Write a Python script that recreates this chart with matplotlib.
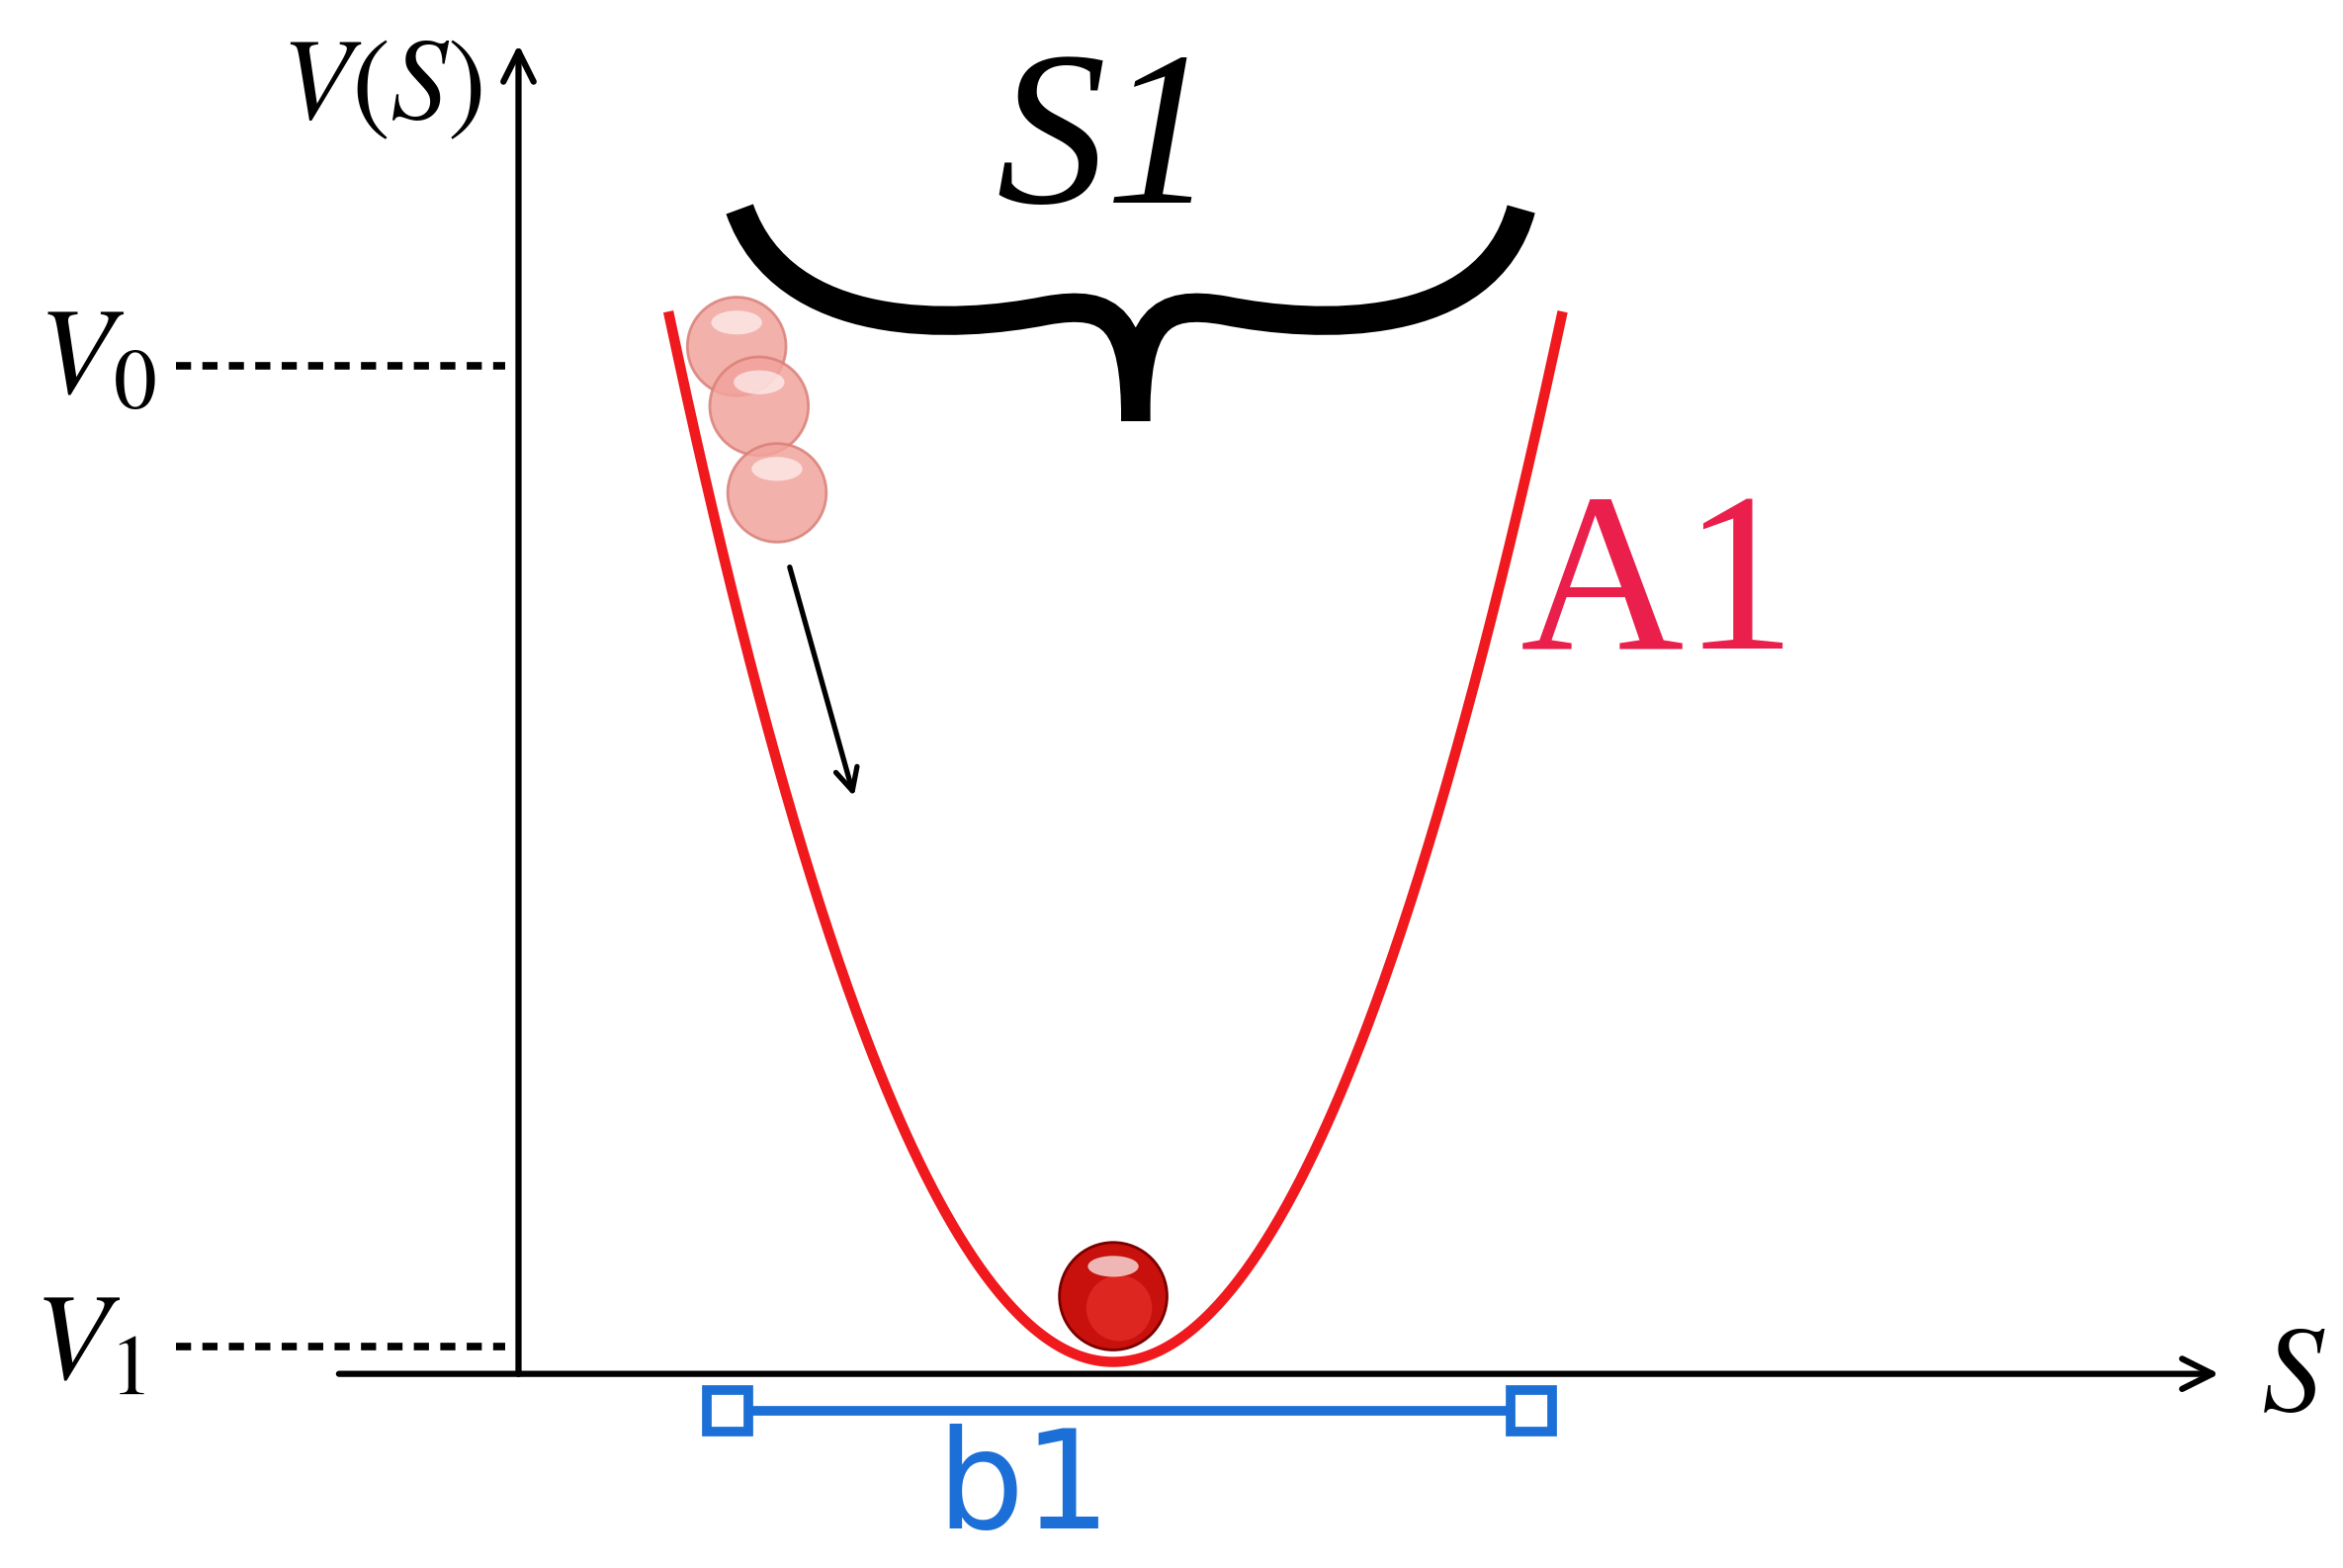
import numpy as np
import matplotlib.pyplot as plt
from matplotlib.patches import Circle, Ellipse, PathPatch, FancyArrowPatch
from matplotlib.path import Path

# diagram in reference pixel units (1568 x 1050)
vertex = (745, 912)
left_top = (448, 212)
right_top = (1045, 212)
ghost_balls = [(493, 232), (508, 272), (520, 330)]
ball = (745, 868)
level_y = {"V0": 245, "V1": 902}
b1_span = [487, 1025]

plt.rcParams['mathtext.fontset'] = 'stix'
fig = plt.figure(figsize=(23.7, 15.86), dpi=100)
ax = fig.add_axes([0, 0, 1, 1])
ax.set_xlim(0, 1568)
ax.set_ylim(1050, 0)
ax.axis('off')

# axes
ax.annotate('', xy=(347, 28), xytext=(347, 922),
            arrowprops=dict(arrowstyle='->', lw=4.5, color='black', mutation_scale=55))
ax.annotate('', xy=(1487, 920), xytext=(225, 920),
            arrowprops=dict(arrowstyle='->', lw=4.5, color='black', mutation_scale=55))

for name, y in level_y.items():
    ax.plot([118, 338], [y, y], color='black', lw=5.5, ls=(0, (2.0, 1.5)))

ax.text(255, 58, r'$V(S)$', fontsize=84, ha='center', va='center')
ax.text(65, 240, r'$V_{\mathit{0}}$', fontsize=90, ha='center', va='center')
ax.text(60, 900, r'$V_{\mathit{1}}$', fontsize=90, ha='center', va='center')
ax.text(1535, 922, r'$S$', fontsize=90, ha='center', va='center')

# parabola (each side reaches its own top point)
xs_l = np.linspace(left_top[0], vertex[0], 200)
xs_r = np.linspace(vertex[0], right_top[0], 200)
a_l = (vertex[1] - left_top[1]) / (vertex[0] - left_top[0]) ** 2
a_r = (vertex[1] - right_top[1]) / (vertex[0] - right_top[0]) ** 2
xs = np.concatenate([xs_l, xs_r])
ys = np.concatenate([vertex[1] - a_l * (xs_l - vertex[0]) ** 2,
                     vertex[1] - a_r * (xs_r - vertex[0]) ** 2])
ax.plot(xs, ys, color='#f0191e', lw=7.5, zorder=2)

ax.text(1110, 398, 'A1', fontsize=165, family='Liberation Serif', color='#ea1f4c',
        ha='center', va='center')

# brace
verts = [(495, 140), (525, 225), (640, 220), (700, 208),
         (745, 200), (760, 215), (760, 282),
         (760, 215), (775, 200), (820, 208),
         (880, 220), (995, 225), (1018, 140)]
codes = [Path.MOVETO] + [Path.CURVE4] * 12
ax.add_patch(PathPatch(Path(verts, codes), fill=False, lw=21, ec='black',
                       capstyle='butt', joinstyle='miter'))
ax.text(740, 100, 'S1', fontsize=160, family='Liberation Serif', style='italic',
        ha='center', va='center')

# balls
for (cx, cy) in ghost_balls:
    ax.add_patch(Circle((cx, cy), 33, fc='#f2a49c', ec='#d98078', lw=2, alpha=0.85, zorder=3))
    ax.add_patch(Ellipse((cx, cy - 16), 34, 16, fc='white', alpha=0.6, zorder=4))
ax.add_patch(Circle(ball, 36, fc='#c8100c', ec='#7a0000', lw=2, zorder=3))
ax.add_patch(Circle((ball[0] + 4, ball[1] + 8), 22, fc='#e8302a', alpha=0.7, zorder=4))
ax.add_patch(Ellipse((ball[0], ball[1] - 20), 34, 14, fc='white', alpha=0.7, zorder=5))

ax.add_patch(FancyArrowPatch((528, 378), (572, 535), arrowstyle='->', lw=3.8,
                             color='black', mutation_scale=40))

# b1
ax.plot(b1_span, [945, 945], color='#1b6fd6', lw=7)
ax.plot(b1_span, [945, 945], ls='none', marker='s', ms=30, mfc='white',
        mec='#1b6fd6', mew=7)
ax.text(685, 998, 'b1', fontsize=100, family='DejaVu Sans', color='#1b6fd6',
        ha='center', va='center')

fig.savefig('out.png', dpi=100)
